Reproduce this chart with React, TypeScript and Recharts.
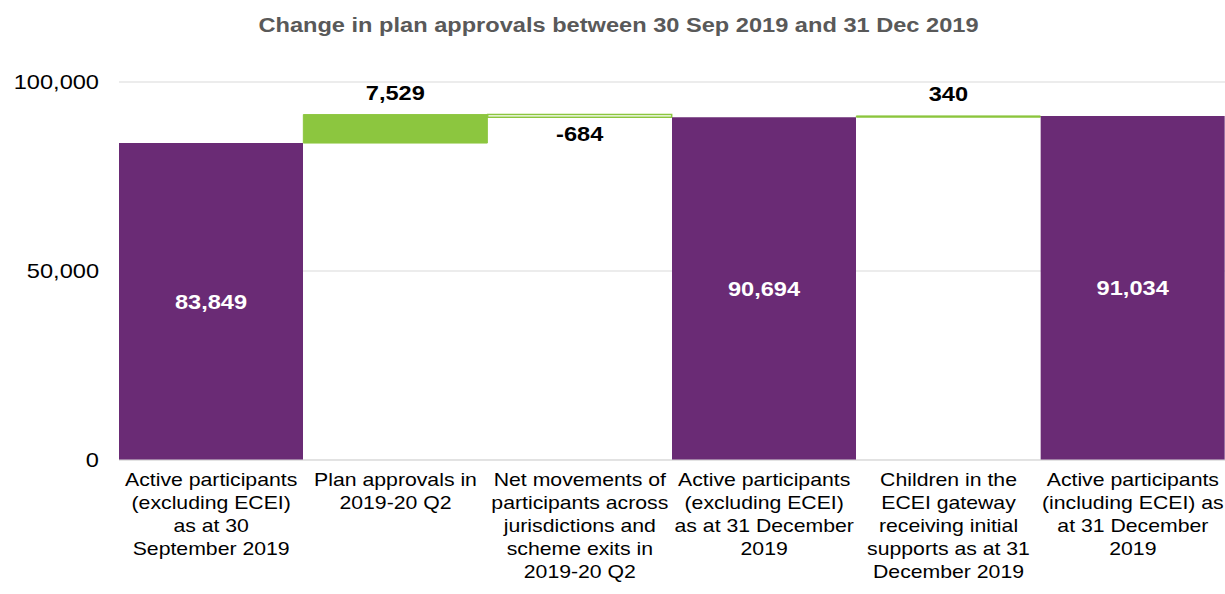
import React from 'react';
import { BarChart, Bar, XAxis, YAxis, CartesianGrid, Cell, LabelList } from 'recharts';

const categoryLines = [
  ['Active participants', '(excluding ECEI)', 'as at 30', 'September 2019'],
  ['Plan approvals in', '2019-20 Q2'],
  ['Net movements of', 'participants across', 'jurisdictions and', 'scheme exits in', '2019-20 Q2'],
  ['Active participants', '(excluding ECEI)', 'as at 31 December', '2019'],
  ['Children in the', 'ECEI gateway', 'receiving initial', 'supports as at 31', 'December 2019'],
  ['Active participants', '(including ECEI) as', 'at 31 December', '2019'],
];
const categories = categoryLines.map((l) => l.join(' '));
const values = [83849, 7529, -684, 90694, 340, 91034];
const kinds = ['total', 'step', 'step', 'total', 'step', 'total'];
const yTicks = [0, 50000, 100000];

const PURPLE = '#6a2b75';
const GREEN = '#8cc63f';
const FONT = '"Liberation Sans", Arial, sans-serif';
const SX = 1.18; // text is drawn slightly wide

// floating bars: totals start at 0, steps start where the running total ends
let running = 0;
const data = categories.map((name, i) => {
  const v = values[i];
  let range: [number, number];
  if (kinds[i] === 'total') {
    range = [0, v];
    running = v;
  } else {
    range = v >= 0 ? [running, running + v] : [running + v, running];
    running += v;
  }
  return { name, range, value: v };
});

const fmt = (n: number) => n.toLocaleString('en-US');

const Wide = ({ x, y, anchor, size, weight, fill, children }: any) => (
  <text
    transform={`translate(${x},${y}) scale(${SX},1)`}
    textAnchor={anchor}
    fontSize={size}
    fontWeight={weight}
    fill={fill}
    fontFamily={FONT}
  >
    {children}
  </text>
);

const CategoryTick = (props: any) => {
  const { x, index } = props;
  const lines = categoryLines[index] || [];
  return (
    <g>
      {lines.map((line, i) => (
        <Wide key={i} x={x} y={486 + i * 23} anchor="middle" size={18} weight="normal" fill="#000">
          {line}
        </Wide>
      ))}
    </g>
  );
};

const ValueTick = (props: any) => {
  const { y, payload } = props;
  return (
    <Wide x={99} y={y + 7} anchor="end" size={20} weight="normal" fill="#000">
      {fmt(payload.value)}
    </Wide>
  );
};

const BarValue = (props: any) => {
  const { x, y, width, height, index } = props;
  const v = values[index];
  const cx = x + width / 2;
  if (kinds[index] === 'total') {
    return (
      <Wide x={cx} y={y + height / 2 + 7} anchor="middle" size={20} weight="bold" fill="#fff">
        {fmt(v)}
      </Wide>
    );
  }
  const ty = v >= 0 ? y - 15 : y + height + 24;
  return (
    <Wide x={cx} y={ty} anchor="middle" size={20} weight="bold" fill="#000">
      {fmt(v)}
    </Wide>
  );
};

const App = () => {
  return (
    <div style={{ position: 'absolute', left: 0, top: 0, width: 1225, height: 594, background: '#fff' }}>
      <div
        style={{
          position: 'absolute',
          top: 15,
          left: 6,
          width: 1225,
          textAlign: 'center',
          fontFamily: FONT,
          fontWeight: 'bold',
          fontSize: 20,
          lineHeight: '20px',
          color: '#595959',
          transform: `scaleX(${SX})`,
        }}
      >
        Change in plan approvals between 30 Sep 2019 and 31 Dec 2019
      </div>
      <BarChart
        width={1225}
        height={594}
        data={data}
        margin={{ top: 82, right: 0, bottom: 0, left: 0 }}
        barCategoryGap={0}
      >
        <CartesianGrid vertical={false} stroke="#d9d9d9" />
        <XAxis
          dataKey="name"
          height={134}
          tickLine={false}
          axisLine={{ stroke: '#d9d9d9' }}
          tick={<CategoryTick />}
          interval={0}
        />
        <YAxis
          width={119}
          domain={[0, 100000]}
          ticks={yTicks}
          axisLine={false}
          tickLine={false}
          tick={<ValueTick />}
        />
        <Bar dataKey="range" isAnimationActive={false}>
          {data.map((d, i) => {
            if (kinds[i] === 'total') return <Cell key={i} fill={PURPLE} />;
            if (d.value < 0) return <Cell key={i} fill="#fff" stroke={GREEN} strokeWidth={1.5} />;
            return <Cell key={i} fill={GREEN} stroke={GREEN} strokeWidth={1} />;
          })}
          <LabelList dataKey="range" content={<BarValue />} />
        </Bar>
      </BarChart>
    </div>
  );
};

export default App;
